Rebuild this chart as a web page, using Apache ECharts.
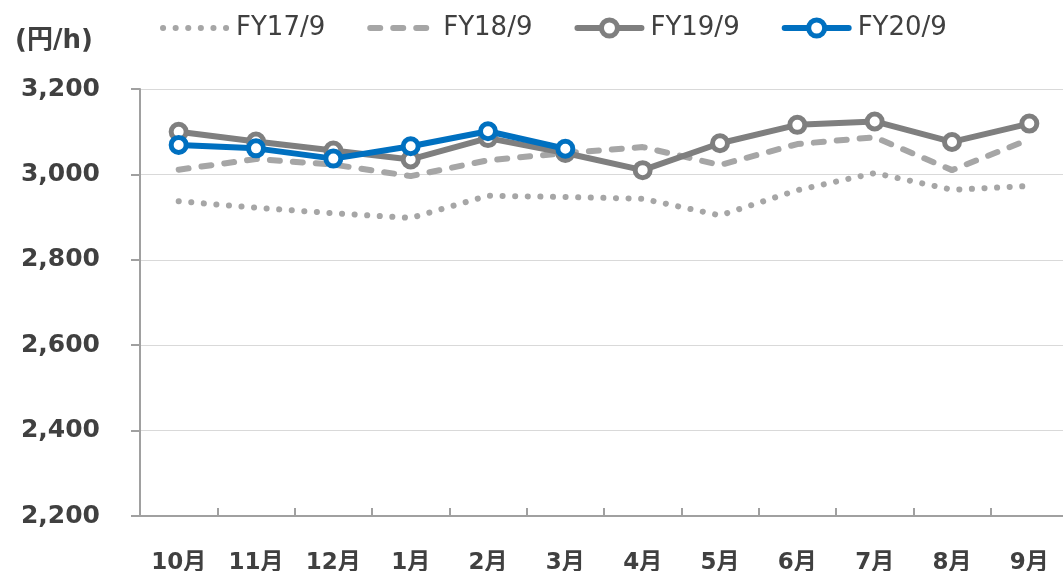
<!DOCTYPE html>
<html>
<head>
<meta charset="utf-8">
<script src="https://cdn.jsdelivr.net/npm/echarts@6/dist/echarts.min.js"></script>
<style>
  html, body { margin: 0; padding: 0; background: #fff; }
  #main { width: 1063px; height: 571px; }
</style>
</head>
<body>
<div id="main"></div>
<script>
// 月
var months = ['10月', '11月', '12月', '1月', '2月', '3月', '4月', '5月', '6月', '7月', '8月', '9月'];
// 円/h
var fy17 = [2937, 2922, 2909, 2898, 2950, 2947, 2943, 2904, 2963, 3003, 2964, 2973];
var fy18 = [3011, 3036, 3023, 2996, 3033, 3050, 3064, 3022, 3071, 3087, 3010, 3082];
var fy19 = [3100, 3077, 3056, 3035, 3085, 3050, 3010, 3073, 3116, 3124, 3076, 3119];
var fy20 = [3069, 3061, 3037, 3066, 3101, 3060];
var yTicks = [2200, 2400, 2600, 2800, 3000, 3200];

var chart = echarts.init(document.getElementById('main'));
var latin = '"DejaVu Sans", "Noto Sans CJK JP", sans-serif';

var dotted = { color: '#a6a6a6', width: 6, type: [0.1, 12.5], cap: 'round' };
var dashed = { color: '#a6a6a6', width: 6, type: [10, 13], cap: 'round' };

chart.setOption({
  animation: false,
  textStyle: { fontFamily: latin },
  title: {
    text: '(円/h)',
    left: 10,
    top: 23,
    textStyle: { fontSize: 26, fontWeight: 'bold', color: '#404040', fontFamily: latin }
  },
  legend: {
    left: 160,
    top: 15,
    padding: 0,
    itemWidth: 64,
    itemHeight: 20,
    itemGap: 42,
    textStyle: { fontSize: 26, color: '#404040', fontFamily: latin, padding: [0, 0, 0, 4] },
    data: [
      { name: 'FY17/9', itemStyle: { opacity: 0 }, lineStyle: dotted },
      { name: 'FY18/9', itemStyle: { opacity: 0 }, lineStyle: dashed },
      { name: 'FY19/9', itemStyle: { borderWidth: 5 }, lineStyle: { width: 6, cap: 'round' } },
      { name: 'FY20/9', itemStyle: { borderWidth: 5 }, lineStyle: { width: 6, cap: 'round' } }
    ]
  },
  grid: {
    left: 140,
    top: 89,
    width: 928,
    height: 427,
    outerBoundsMode: 'none'
  },
  xAxis: {
    type: 'category',
    data: months,
    boundaryGap: true,
    axisLine: { lineStyle: { color: '#a0a0a0', width: 2 } },
    axisTick: { show: true, inside: true, length: 8, lineStyle: { color: '#a0a0a0', width: 2 } },
    axisLabel: {
      margin: 36,
      fontSize: 23,
      fontWeight: 'bold',
      color: '#404040',
      fontFamily: latin
    },
    splitLine: { show: false }
  },
  yAxis: {
    type: 'value',
    min: yTicks[0],
    max: yTicks[yTicks.length - 1],
    interval: 200,
    axisLine: { show: true, lineStyle: { color: '#a0a0a0', width: 2 } },
    axisTick: { show: true, length: 9, lineStyle: { color: '#a0a0a0', width: 2 } },
    axisLabel: {
      margin: 40,
      fontSize: 25,
      fontWeight: 'bold',
      color: '#404040',
      fontFamily: latin,
      formatter: function (v) { return v.toLocaleString('en-US'); }
    },
    splitLine: { lineStyle: { color: '#d9d9d9', width: 1 } }
  },
  series: [
    {
      name: 'FY17/9',
      type: 'line',
      data: fy17,
      symbol: 'none',
      z: 1,
      itemStyle: { color: '#a6a6a6' },
      lineStyle: dotted
    },
    {
      name: 'FY18/9',
      type: 'line',
      data: fy18,
      symbol: 'none',
      z: 2,
      itemStyle: { color: '#a6a6a6' },
      lineStyle: dashed
    },
    {
      name: 'FY19/9',
      type: 'line',
      data: fy19,
      symbol: 'circle',
      symbolSize: 15,
      z: 3,
      itemStyle: { color: '#ffffff', borderColor: '#7f7f7f', borderWidth: 5 },
      lineStyle: { color: '#7f7f7f', width: 6, cap: 'round' }
    },
    {
      name: 'FY20/9',
      type: 'line',
      data: fy20,
      symbol: 'circle',
      symbolSize: 15,
      z: 4,
      itemStyle: { color: '#ffffff', borderColor: '#0070c0', borderWidth: 5 },
      lineStyle: { color: '#0070c0', width: 6, cap: 'round' }
    }
  ]
});
</script>
</body>
</html>
